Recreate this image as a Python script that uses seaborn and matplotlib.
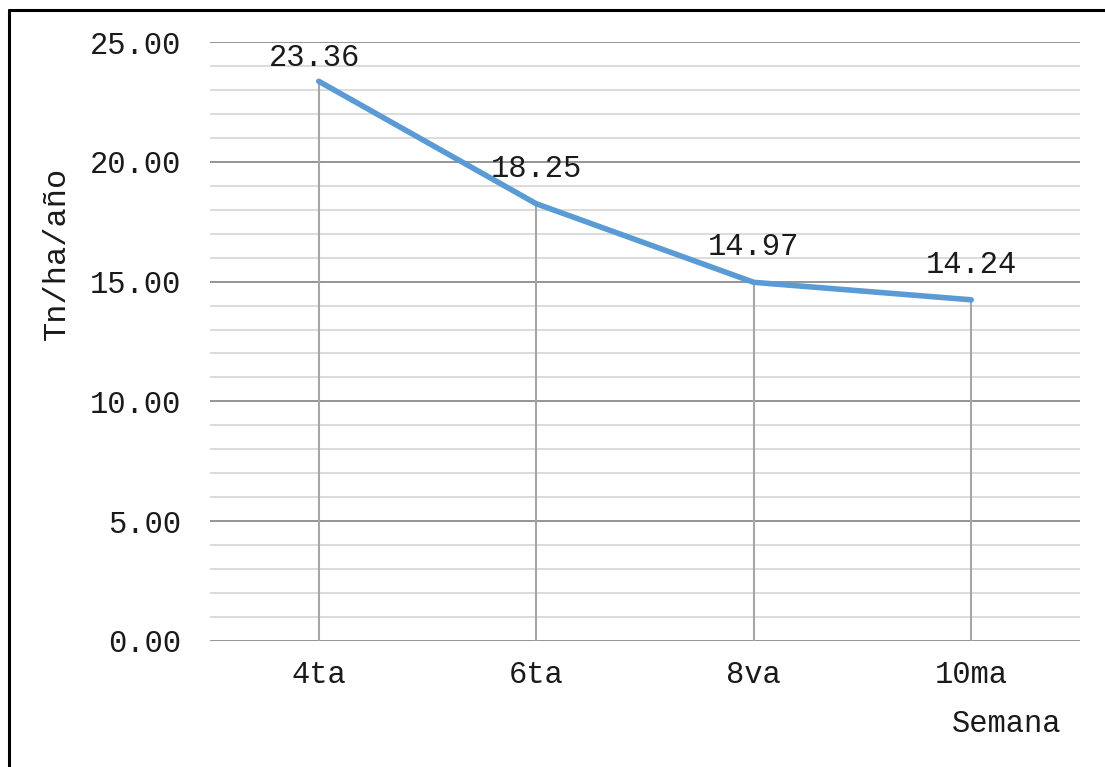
import matplotlib
matplotlib.use("Agg")
import matplotlib.pyplot as plt
from matplotlib.lines import Line2D
from matplotlib.ticker import MultipleLocator
import seaborn as sns
import pandas as pd

semanas = ["4ta", "6ta", "8va", "10ma"]
rendimiento = [23.36, 18.25, 14.97, 14.24]
etiquetas = ["23.36", "18.25", "14.97", "14.24"]

sns.set_style("white")
plt.rcParams["font.family"] = ["Liberation Mono", "DejaVu Sans Mono"]

W, H = 1105, 767
FS = 22
TXT = "#1a1a1a"
fig = plt.figure(figsize=(W / 100, H / 100), dpi=100)
ax = fig.add_axes([210 / W, 1 - 641 / H, 870 / W, (641 - 42) / H])

df = pd.DataFrame({"semana": semanas, "valor": rendimiento})
x = list(range(len(semanas)))

# drop lines from each point to the baseline
ax.vlines(x, 0, df["valor"], color="#a6a6a6", lw=1.5, zorder=2)
sns.lineplot(x=x, y=df["valor"], ax=ax, color="#5b9bd5", lw=4,
             solid_capstyle="round", zorder=3)

# value labels sit above each point; the top one is pulled down to stay in the frame
for xi, v, t in zip(x, rendimiento, etiquetas):
    near_top = v > 22
    dx, dy = (-3, 10.8) if near_top else (0, 19.4)
    ax.annotate(t, (xi, v), xytext=(dx, dy), textcoords="offset points",
                ha="center", va="baseline", fontsize=FS, color=TXT)

ax.set_xlim(-0.5, len(semanas) - 0.5)
ax.set_ylim(0, 25)
ax.yaxis.set_major_locator(MultipleLocator(5))
ax.yaxis.set_minor_locator(MultipleLocator(1))
ax.set_xticks(x)
ax.set_xticklabels(semanas)
ax.set_yticklabels([f"{v:.2f}" for v in ax.get_yticks()])
ax.grid(which="major", axis="y", color="#8c8c8c", lw=1.3, zorder=1)
ax.grid(which="minor", axis="y", color="#d9d9d9", lw=1.3, zorder=1)
ax.tick_params(axis="both", which="both", length=0, labelsize=FS, colors=TXT)
ax.tick_params(axis="y", pad=21)
ax.tick_params(axis="x", pad=14)
for s in ax.spines.values():
    s.set_visible(False)
ax.set_xlabel("")
ax.set_ylabel("")

fig.text(57 / W, 1 - 253 / H, "Tn/ha/año", rotation=90, ha="center",
         va="center", fontsize=23, color=TXT)
fig.text(1007 / W, 1 - 732 / H, "Semana", ha="center", va="baseline",
         fontsize=FS, color=TXT)

# outer frame (top and left edges)
fig.add_artist(Line2D([8.5 / W, 8.5 / W], [0, 1 - 10 / H], color="black",
                      lw=2.2, transform=fig.transFigure))
fig.add_artist(Line2D([8.5 / W, 1], [1 - 10 / H, 1 - 10 / H], color="black",
                      lw=2.2, transform=fig.transFigure))

fig.savefig("out.png", dpi=100)
